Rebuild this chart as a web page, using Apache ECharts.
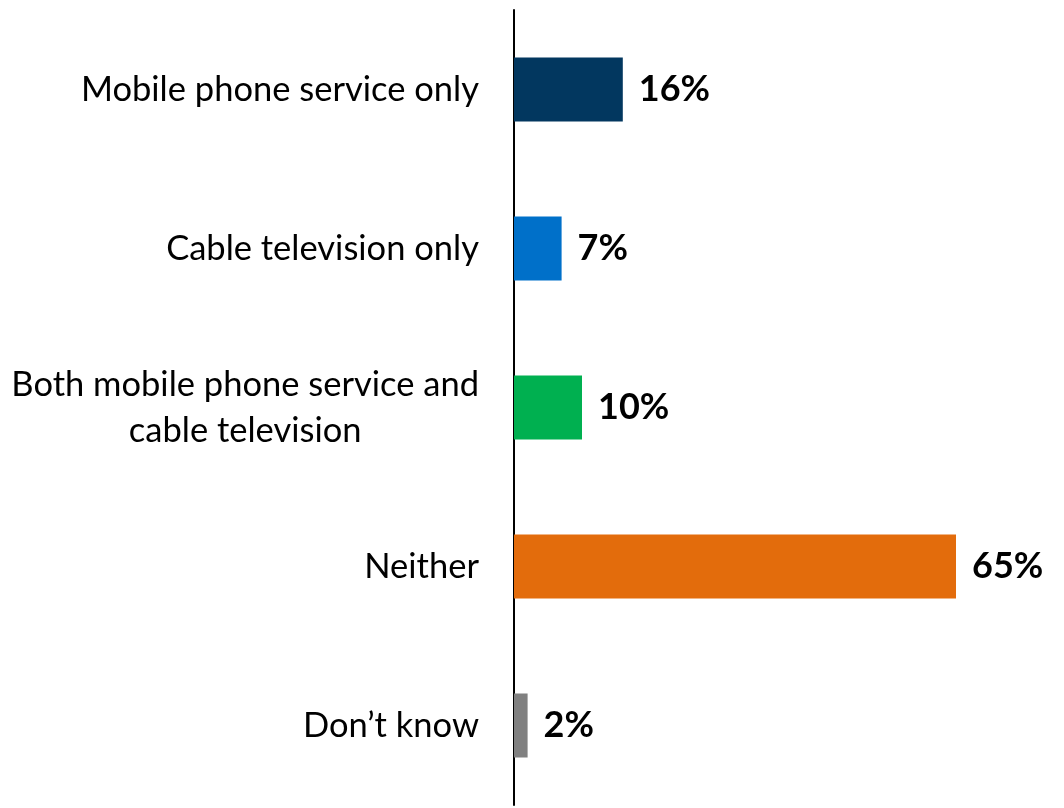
<!DOCTYPE html>
<html>
<head>
<meta charset="utf-8">
<script src="https://cdn.jsdelivr.net/npm/echarts@6/dist/echarts.min.js"></script>
<style>
  html, body { margin: 0; padding: 0; background: #fff; }
  #chart { width: 1064px; height: 808px; }
</style>
</head>
<body>
<div id="chart"></div>
<script>
  var categories = ['Mobile phone service only', 'Cable television only', 'Both mobile phone service and\ncable television', 'Neither', 'Don\u2019t know']
  var values = [16, 7, 10, 65, 2]
  var barColors = ['#02375F', '#0070C9', '#00B050', '#E36C0C', '#808080']

  var chart = echarts.init(document.getElementById('chart'))

  var option = {
    animation: false,
    textStyle: { fontFamily: 'Lato' },
    grid: {
      left: 514,
      right: 6,
      top: 10,
      bottom: 3
    },
    xAxis: {
      type: 'value',
      min: 0,
      max: 80,
      show: false
    },
    yAxis: {
      type: 'category',
      inverse: true,
      data: categories,
      axisLine: { show: true, lineStyle: { color: '#000', width: 2 } },
      axisTick: { show: false },
      axisLabel: {
        margin: 35,
        fontSize: 34.5,
        color: '#000',
        lineHeight: 46,
        formatter: function (v) {
          if (v.indexOf('\n') < 0) return v
          return v.split('\n').map(function (s) { return '{c|' + s + '}' }).join('\n')
        },
        rich: {
          c: { align: 'center', fontSize: 34.5, lineHeight: 46, color: '#000' }
        }
      }
    },
    series: [
      {
        type: 'bar',
        barWidth: 64,
        data: values.map(function (v, i) {
          return { value: v, itemStyle: { color: barColors[i] } }
        }),
        label: {
          show: true,
          position: 'right',
          distance: 16,
          formatter: '{c}%',
          fontSize: 36,
          fontWeight: 'bold',
          color: '#000'
        }
      }
    ]
  }

  chart.setOption(option)
</script>
</body>
</html>
